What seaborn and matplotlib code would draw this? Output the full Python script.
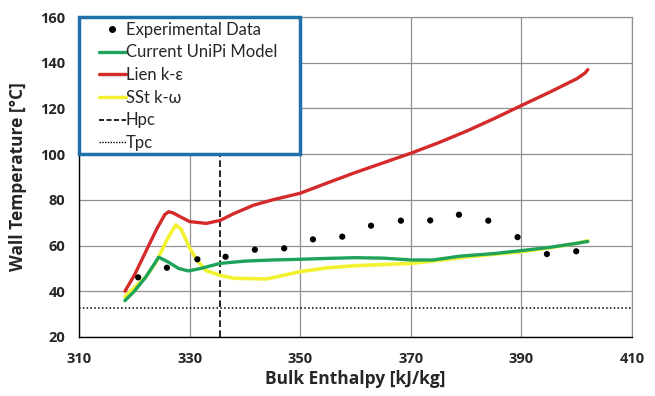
import matplotlib
matplotlib.use("Agg")
import matplotlib.pyplot as plt
import seaborn as sns
import pandas as pd
from matplotlib.lines import Line2D
from matplotlib.patches import Rectangle

# Experimental data
exp_h = [320.7, 325.9, 331.4, 336.5, 341.8, 347.1, 352.3, 357.6, 362.8, 368.2,
         373.5, 378.7, 384.0, 389.3, 394.6, 399.9]
exp_t = [46.1, 50.3, 54.0, 55.1, 58.2, 58.8, 62.7, 63.9, 68.7, 70.9,
         71.0, 73.5, 70.9, 63.7, 56.3, 57.5]

# Current UniPi Model
uni_h = [318.3, 320, 322, 323.5, 324.4, 326, 328, 329.8, 332, 335.5, 340, 345, 350,
         355, 360, 365, 370, 374, 379, 385, 390, 395, 400, 402]
uni_t = [35.9, 40.0, 46.0, 51.5, 54.9, 53.0, 50.0, 48.9, 50.0, 52.2, 53.2, 53.7, 54.0,
         54.4, 54.7, 54.5, 53.7, 53.7, 55.4, 56.5, 57.8, 59.2, 61.0, 61.8]

# Lien k-eps
lien_h = [318.3, 320, 322, 324, 325.5, 326.2, 327, 328, 330, 333, 335.5, 338, 341.6, 345,
          350, 355, 360, 365, 370, 375, 380, 385, 390, 395, 400, 401.5, 402]
lien_t = [40.0, 47.0, 57.0, 67.0, 73.5, 74.8, 74.3, 73.0, 70.5, 69.7, 71.0, 74.0, 77.7, 80.0,
          82.9, 87.5, 92.0, 96.2, 100.4, 105.0, 110.0, 115.5, 121.3, 127.0, 133.0, 135.5, 137.0]

# SSt k-omega
sst_h = [318.3, 320, 322, 324, 326, 327.5, 328.5, 330, 331.3, 333, 335.5, 338, 344, 350,
         355, 360, 365, 370, 375, 380, 385, 390, 395, 400, 402]
sst_t = [37.6, 41.5, 46.0, 53.0, 63.0, 69.0, 67.0, 59.0, 53.7, 49.0, 47.0, 45.7, 45.4, 48.6,
         50.3, 51.2, 51.7, 52.2, 53.5, 55.0, 56.2, 57.3, 59.0, 61.0, 62.1]

hpc = 335.5
tpc = 32.6

x_ticks = [310, 330, 350, 370, 390, 410]
y_ticks = [20, 40, 60, 80, 100, 120, 140, 160]

sns.set_theme(style="white")
plt.rcParams['font.family'] = ['Open Sans', 'DejaVu Sans']

fig = plt.figure(figsize=(6.55, 3.96), dpi=100)
ax = fig.add_axes([0.1206, 0.149, 0.8444, 0.808])

green = '#1fa35a'
red = '#d42a2a'
yellow = '#f2f230'

sns.lineplot(x=uni_h, y=uni_t, ax=ax, color=green, linewidth=2.4, sort=False, zorder=3)
sns.lineplot(x=lien_h, y=lien_t, ax=ax, color=red, linewidth=2.4, sort=False, zorder=3)
sns.lineplot(x=sst_h, y=sst_t, ax=ax, color=yellow, linewidth=2.6, sort=False, zorder=2.9)
sns.scatterplot(x=exp_h, y=exp_t, ax=ax, color='black', s=20, edgecolor='none', zorder=4)

ax.axvline(hpc, color='black', linestyle=(0, (4, 2)), linewidth=1.2, zorder=2)
ax.axhline(tpc, color='black', linestyle=(0, (1, 1.5)), linewidth=1.1, zorder=2)

ax.set_xlim(310, 410)
ax.set_ylim(20, 160)
ax.set_xticks(x_ticks)
ax.set_yticks(y_ticks)
ax.grid(True, color='#909090', linewidth=0.9)
ax.set_axisbelow(True)
for s in ['top', 'right']:
    ax.spines[s].set_color('#909090')
    ax.spines[s].set_linewidth(0.9)
for s in ['left', 'bottom']:
    ax.spines[s].set_color('black')
    ax.spines[s].set_linewidth(1.0)

ax.tick_params(axis='x', labelsize=10.5, length=0, pad=11)
ax.tick_params(axis='y', labelsize=10.5, length=0, pad=10)
for lab in ax.get_xticklabels() + ax.get_yticklabels():
    lab.set_fontweight('bold')

ax.set_xlabel('Bulk Enthalpy [kJ/kg]', fontsize=12.5, fontweight='bold', labelpad=3)
ax.set_ylabel('Wall Temperature [°C]', fontsize=12.5, fontweight='bold', labelpad=9)

# legend frame (blue box)
ax.add_patch(Rectangle((0.0, 0.572), 0.4, 0.428, transform=ax.transAxes,
                       facecolor='white', edgecolor='#1f6fa8', linewidth=2.5,
                       zorder=5, clip_on=False))

handles = [
    Line2D([], [], marker='o', color='black', linestyle='none', markersize=4),
    Line2D([], [], color=green, linewidth=2.4),
    Line2D([], [], color=red, linewidth=2.4),
    Line2D([], [], color=yellow, linewidth=2.4),
    Line2D([], [], color='black', linestyle=(0, (3, 1.5)), linewidth=1.2),
    Line2D([], [], color='black', linestyle=(0, (1, 1)), linewidth=1.0),
]
labels = ['Experimental Data', 'Current UniPi Model', 'Lien k-ε', 'SSt k-ω', 'Hpc', 'Tpc']
leg = ax.legend(handles, labels, loc='upper left', bbox_to_anchor=(0.036, 0.985),
                prop={'family': ['Lato', 'DejaVu Sans'], 'size': 12},
                frameon=False, handlelength=1.6, handletextpad=0.0, borderaxespad=0.0,
                labelspacing=0.4, borderpad=0.0, handleheight=0.7)
leg.set_zorder(6)

fig.savefig('out.png', dpi=100)
